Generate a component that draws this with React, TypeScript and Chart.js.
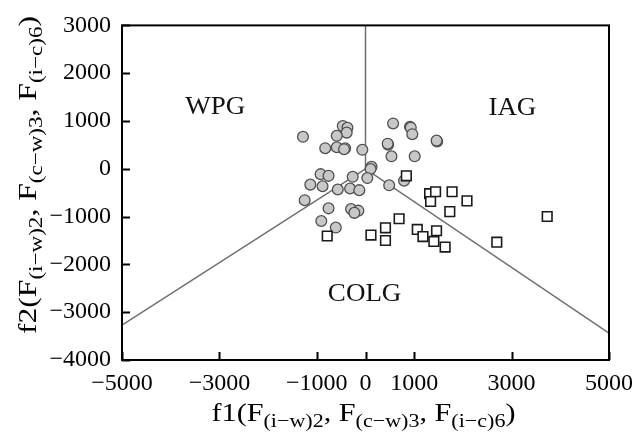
import React, { useEffect, useRef } from 'react';
import { Chart, registerables } from 'chart.js';

Chart.register(...registerables);

// ---- data ----
const xTickValues = [-5000, -3000, -1000, 0, 1000, 3000, 5000];
const yTickValues = [-4000, -3000, -2000, -1000, 0, 1000, 2000, 3000];

const circleX = [-1284, -467, -371, -386, -590, -827, -590, -418, -440, -65, 567, 914, 930, 961, 1471, 1460, 465, 455, 533, 1010, 124, 104, -922, -759, -263, 37, 792, -1133, -882, -569, -316, -127, 486, -1249, -759, -296, -147, -229, -908, -610];
const circleY = [669, 894, 859, 757, 690, 431, 451, 431, 410, 398, 949, 880, 860, 724, 573, 590, 506, 525, 261, 261, 43, -4, -112, -147, -167, -194, -249, -331, -365, -433, -412, -447, -345, -657, -827, -841, -876, -922, -1092, -1229];

const squareX = [839, 1316, 1439, 1337, 1778, 2084, 1731, 690, 410, 112, 410, -786, 1063, 1180, 1459, 1404, 1635, 3731, 2696];
const squareY = [-147, -520, -480, -684, -480, -671, -896, -1045, -1235, -1386, -1500, -1406, -1269, -1418, -1296, -1520, -1637, -998, -1535];

const boundaryX = [-5000, 0, 5000];
const boundaryY = [-3270, 0, -3440];
const verticalX = [0, 0];
const verticalY = [0, 3000];

const fieldNames = ['WPG', 'IAG', 'COLG'];
const fieldX = [-3086, 3016, -18];
const fieldY = [1139, 1133, -2765];

const xTitle = [
  { t: 'f1(F', sub: false },
  { t: '(i\u2212w)2', sub: true },
  { t: ', F', sub: false },
  { t: '(c\u2212w)3', sub: true },
  { t: ', F', sub: false },
  { t: '(i\u2212c)6', sub: true },
  { t: ')', sub: false },
];
const yTitle = [
  { t: 'f2(F', sub: false },
  { t: '(i\u2212w)2', sub: true },
  { t: ', F', sub: false },
  { t: '(c\u2212w)3', sub: true },
  { t: ', F', sub: false },
  { t: '(i\u2212c)6', sub: true },
  { t: ')', sub: false },
];

const toPts = (xs: number[], ys: number[]) => xs.map((x, i) => ({ x, y: ys[i] }));

const SERIF = '"Liberation Serif", "Times New Roman", serif';

function drawRich(
  ctx: CanvasRenderingContext2D,
  segs: { t: string; sub: boolean }[],
  cx: number,
  cy: number,
  targetWidth: number,
  rotation: number
) {
  const mainFont = `26px ${SERIF}`;
  const subFont = `19px ${SERIF}`;
  ctx.save();
  let total = 0;
  const widths = segs.map((s) => {
    ctx.font = s.sub ? subFont : mainFont;
    const w = ctx.measureText(s.t).width;
    total += w;
    return w;
  });
  const sx = targetWidth / total;
  ctx.translate(cx, cy);
  if (rotation) ctx.rotate(rotation);
  ctx.scale(sx, 1);
  ctx.fillStyle = '#000';
  ctx.textAlign = 'left';
  ctx.textBaseline = 'alphabetic';
  let x = -total / 2;
  segs.forEach((s, i) => {
    ctx.font = s.sub ? subFont : mainFont;
    ctx.fillText(s.t, x, s.sub ? 6 : 0);
    x += widths[i];
  });
  ctx.restore();
}

const overlayPlugin = {
  id: 'overlay',
  afterDraw(chart: any) {
    const { ctx, chartArea: a, scales } = chart;
    const xs = scales.x;
    const ys = scales.y;
    ctx.save();
    // field labels
    ctx.fillStyle = '#111';
    ctx.font = `25px ${SERIF}`;
    ctx.textAlign = 'center';
    ctx.textBaseline = 'alphabetic';
    fieldNames.forEach((n, i) => {
      const px = xs.getPixelForValue(fieldX[i]);
      const py = ys.getPixelForValue(fieldY[i]);
      ctx.save();
      ctx.translate(px, py);
      ctx.scale(1.08, 1);
      ctx.fillText(n, 0, 0);
      ctx.restore();
    });
    // frame
    ctx.strokeStyle = '#000';
    ctx.lineWidth = 2;
    ctx.strokeRect(a.left, a.top, a.right - a.left, a.bottom - a.top);
    // inward ticks
    ctx.beginPath();
    yTickValues.forEach((v) => {
      const py = Math.round(ys.getPixelForValue(v)) + 0.5;
      ctx.moveTo(a.left, py);
      ctx.lineTo(a.left + 8, py);
    });
    xTickValues.forEach((v) => {
      const px = Math.round(xs.getPixelForValue(v)) + 0.5;
      ctx.moveTo(px, a.bottom);
      ctx.lineTo(px, a.bottom - 8);
    });
    ctx.stroke();
    ctx.restore();
    // axis titles
    drawRich(ctx, xTitle, (a.left + a.right) / 2 - 2, 421, 304, 0);
    drawRich(ctx, yTitle, 36, 175, 318, -Math.PI / 2);
  },
};

const fmt = (v: number) => (v < 0 ? '\u2212' + Math.abs(v) : String(v));

export default function App() {
  const ref = useRef<HTMLCanvasElement | null>(null);
  useEffect(() => {
    document.body.style.margin = '0';
    if (!ref.current) return;
    const chart = new Chart(ref.current, {
      type: 'scatter',
      data: {
        datasets: [
          {
            label: 'squares',
            data: toPts(squareX, squareY),
            pointStyle: 'rect',
            pointRadius: 6.8,
            backgroundColor: '#ffffff',
            borderColor: '#1a1a1a',
            borderWidth: 1.6,
          },
          {
            label: 'circles',
            data: toPts(circleX, circleY),
            pointStyle: 'circle',
            pointRadius: 5.4,
            backgroundColor: '#c8c8c8',
            borderColor: '#505050',
            borderWidth: 1.3,
          },
          {
            label: 'boundary',
            data: toPts(boundaryX, boundaryY),
            showLine: true,
            pointRadius: 0,
            borderColor: '#707070',
            borderWidth: 1.5,
            fill: false,
          },
          {
            label: 'vertical',
            data: toPts(verticalX, verticalY),
            showLine: true,
            pointRadius: 0,
            borderColor: '#707070',
            borderWidth: 1.5,
            fill: false,
          },
        ] as any,
      },
      options: {
        animation: false,
        responsive: false,
        events: [],
        layout: { padding: { left: 0, right: 30, top: 17, bottom: 0 } },
        plugins: { legend: { display: false }, tooltip: { enabled: false } },
        scales: {
          x: {
            type: 'linear',
            min: -5000,
            max: 5000,
            grid: { display: false, drawTicks: false },
            border: { display: false },
            afterBuildTicks: (s: any) => {
              s.ticks = xTickValues.map((v) => ({ value: v }));
            },
            afterFit: (s: any) => {
              s.height = 78;
            },
            ticks: {
              autoSkip: false,
              maxRotation: 0,
              padding: 9,
              color: '#000',
              font: { family: SERIF, size: 24 },
              callback: (v: any) => fmt(Number(v)),
            },
          },
          y: {
            type: 'linear',
            min: -4000,
            max: 3000,
            grid: { display: false, drawTicks: false },
            border: { display: false },
            afterBuildTicks: (s: any) => {
              s.ticks = yTickValues.map((v) => ({ value: v }));
            },
            afterFit: (s: any) => {
              s.width = 122;
            },
            ticks: {
              autoSkip: false,
              padding: 11,
              color: '#000',
              font: { family: SERIF, size: 24 },
              callback: (v: any) => fmt(Number(v)),
            },
          },
        },
      } as any,
      plugins: [overlayPlugin],
    });
    return () => chart.destroy();
  }, []);
  return (
    <div style={{ width: 642, height: 438 }}>
      <canvas ref={ref} width={642} height={438} />
    </div>
  );
}
